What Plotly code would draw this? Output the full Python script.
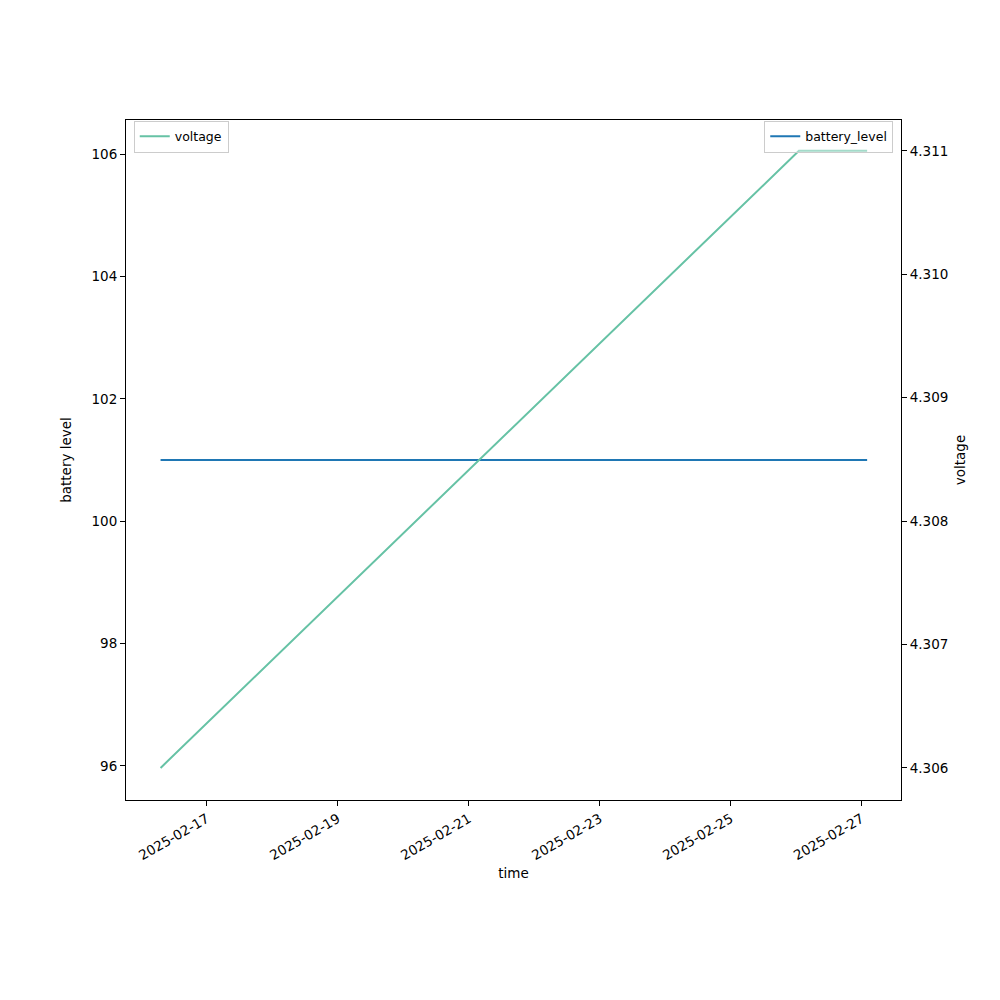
import plotly.graph_objects as go

# Data
time_points = ["2025-02-16 07:00", "2025-02-26 01:00", "2025-02-27 02:00"]
voltage = [4.306, 4.311, 4.311]
battery_time = ["2025-02-16 07:00", "2025-02-27 02:00"]
battery_level = [101, 101]

x_ticks = ["2025-02-17", "2025-02-19", "2025-02-21", "2025-02-23", "2025-02-25", "2025-02-27"]
left_ticks = [96, 98, 100, 102, 104, 106]
right_ticks = [4.306, 4.307, 4.308, 4.309, 4.310, 4.311]

FONT = "DejaVu Sans"

fig = go.Figure()
fig.add_trace(go.Scatter(x=battery_time, y=battery_level, mode="lines", name="battery_level",
                         line=dict(color="#1f77b4", width=2), yaxis="y", legend="legend2",
                         showlegend=True))
fig.add_trace(go.Scatter(x=time_points, y=voltage, mode="lines", name="voltage",
                         line=dict(color="#66c2a5", width=2), yaxis="y2", legend="legend",
                         showlegend=True))

tickfont = dict(family=FONT, size=13.5, color="black")
fig.update_layout(
    width=1000, height=1000,
    showlegend=True,
    margin=dict(l=118, r=107, t=112, b=208, pad=0),
    paper_bgcolor="white", plot_bgcolor="white",
    font=dict(family=FONT, size=13.5, color="black"),
    xaxis=dict(
        type="date",
        range=["2025-02-15 18:20", "2025-02-27 14:25"],
        tickvals=x_ticks, ticktext=x_ticks, tickangle=-30,
        ticks="outside", ticklen=5, tickcolor="black",
        showline=True, linecolor="black", linewidth=1, mirror=True,
        showgrid=False, zeroline=False, tickfont=tickfont,
        title=dict(text="time", font=dict(family=FONT, size=13.5), standoff=6),
    ),
    yaxis=dict(
        range=[95.444, 106.556],
        tickvals=left_ticks, ticktext=[str(v) for v in left_ticks],
        ticks="outside", ticklen=5, tickcolor="black",
        showline=True, linecolor="black", linewidth=1,
        showgrid=False, zeroline=False, tickfont=tickfont,
        title=dict(text="battery level", font=dict(family=FONT, size=13.5), standoff=16),
    ),
    yaxis2=dict(
        range=[4.30574, 4.31125], overlaying="y", side="right",
        tickvals=right_ticks, ticktext=[f"{v:.3f}" for v in right_ticks],
        ticks="outside", ticklen=5, tickcolor="black",
        showline=True, linecolor="black", linewidth=1,
        showgrid=False, zeroline=False, tickfont=tickfont,
        title=dict(text="voltage", font=dict(family=FONT, size=13.5), standoff=8),
    ),
    legend=dict(x=0.01, y=0.999, xanchor="left", yanchor="top", visible=True,
                bgcolor="rgba(255,255,255,0.4)", bordercolor="#cccccc", borderwidth=1,
                font=dict(family=FONT, size=12.5)),
    legend2=dict(x=0.99, y=0.999, xanchor="right", yanchor="top", visible=True,
                 bgcolor="rgba(255,255,255,0.4)", bordercolor="#cccccc", borderwidth=1,
                 font=dict(family=FONT, size=12.5)),
)

fig.write_html("out.html")
